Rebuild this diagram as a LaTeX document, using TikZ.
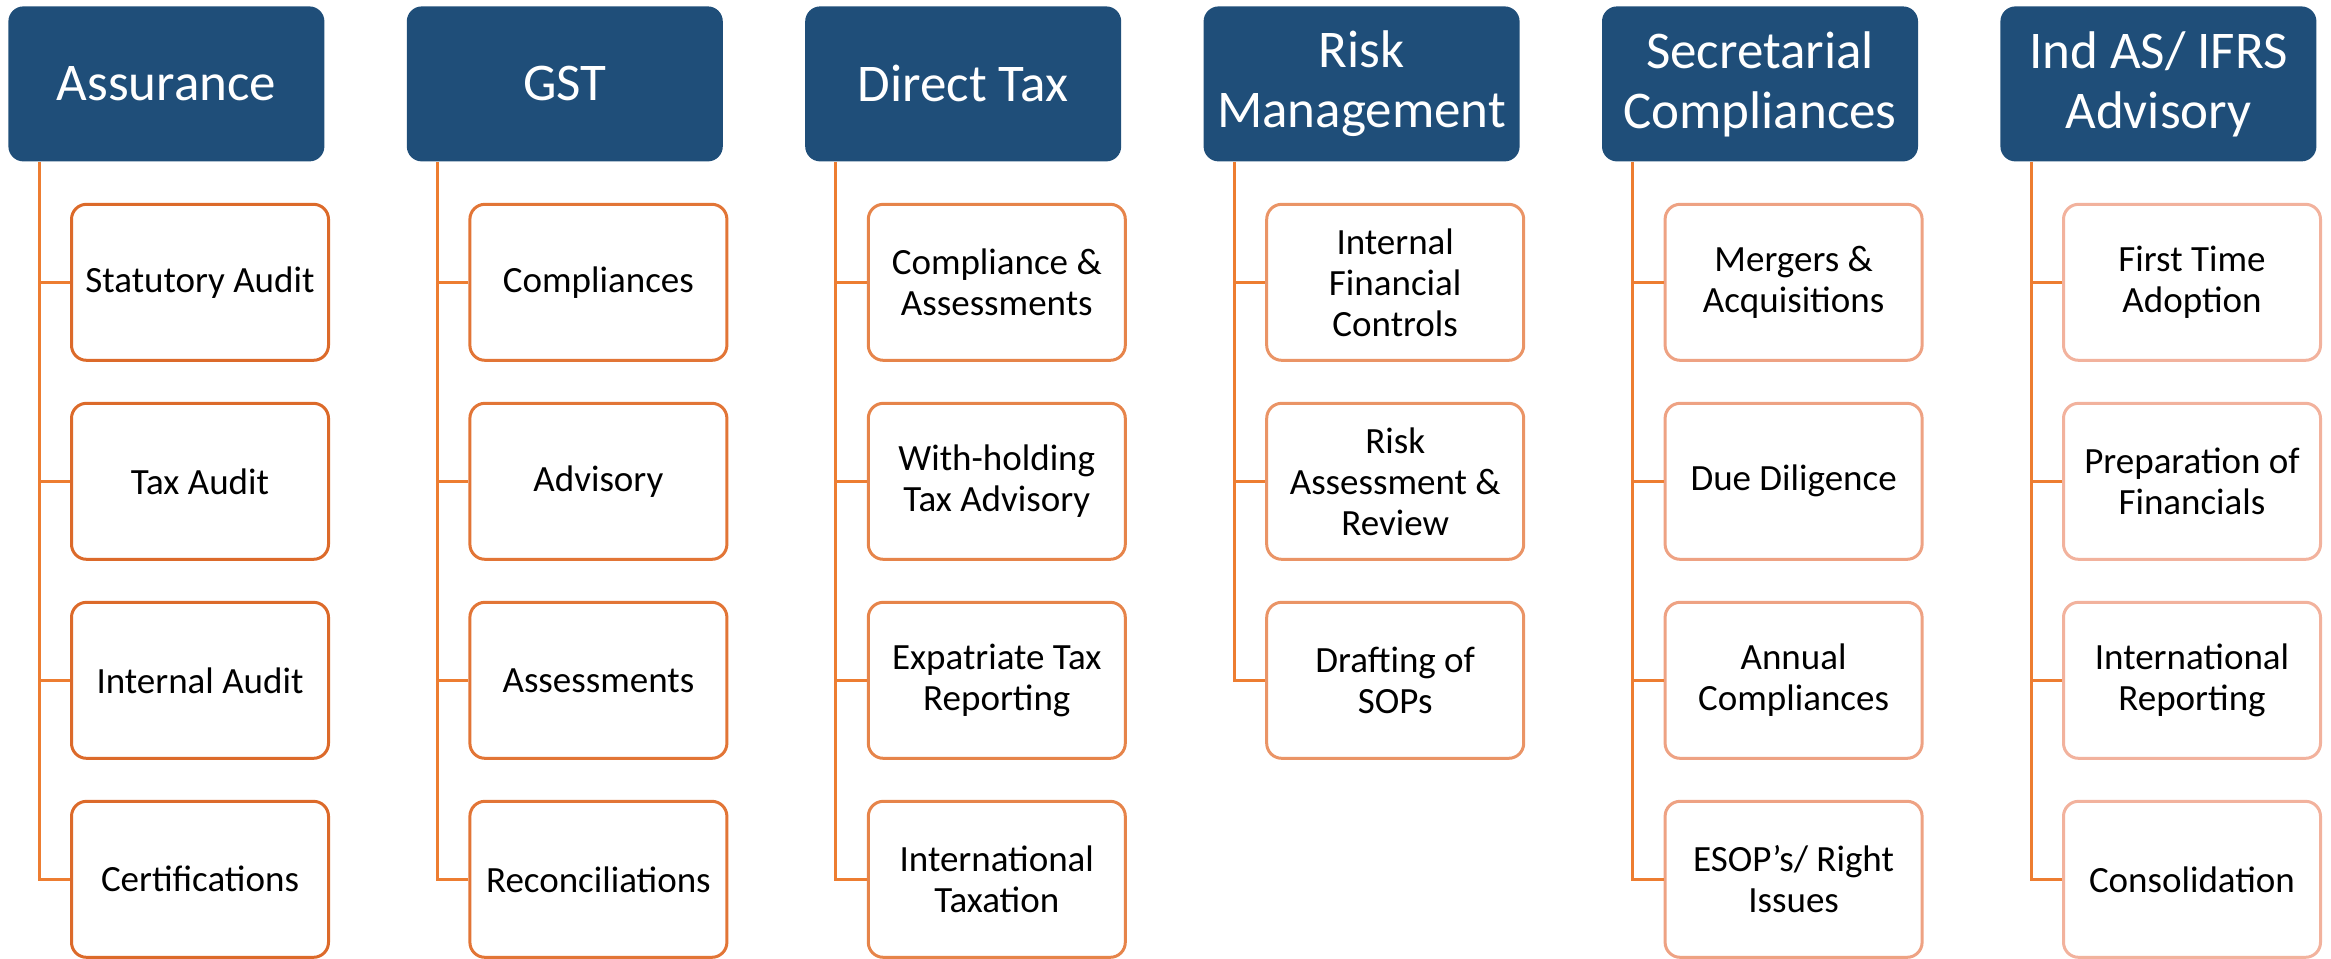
\documentclass[tikz,border=0pt]{standalone}
\usepackage{fontspec}
\setmainfont{Carlito}
\usetikzlibrary{positioning}
\usetikzlibrary{calc}
\definecolor{headblue}{HTML}{1F4E79}
\definecolor{treeorange}{HTML}{ED7D31}
\definecolor{edgeA}{HTML}{DC6A2A}
\definecolor{edgeB}{HTML}{E27536}
\definecolor{edgeC}{HTML}{E6844A}
\definecolor{edgeD}{HTML}{EA9466}
\definecolor{edgeE}{HTML}{EEA283}
\definecolor{edgeF}{HTML}{F2B29D}

\begin{document}
\begin{tikzpicture}
			\tikzset{head/.style = {shape=rectangle,rounded corners=7.5pt,fill=headblue,text=white,anchor=north west,
					minimum width=158pt,minimum height=77.5pt,inner sep=0pt,align=center,font=\fontsize{26.5}{30}\selectfont}}
			\tikzset{item/.style = {shape=rectangle,rounded corners=7.5pt,line width=1.5pt,draw,fill=white,
					minimum width=128.5pt,minimum height=78pt,inner sep=0pt,align=center,font=\fontsize{18.5}{20.5}\selectfont}}
			\tikzset{tree/.style = {line width=1.5pt,treeorange}}
			\useasboundingbox (0,0) rectangle (1165.5pt,-479.5pt);
			
			\node[head] (ASSUR) at (4pt,-3pt) {Assurance};
			\node[head] (GST) at (203.2pt,-3pt) {GST};
			\node[head] (DTAX) at (402.4pt,-3pt) {Direct Tax};
			\node[head] (RISK) at (601.6pt,-3pt) {Risk\\Management};
			\node[head] (SECR) at (800.8pt,-3pt) {Secretarial\\Compliances};
			\node[head] (INDAS) at (1000pt,-3pt) {Ind AS/ IFRS\\Advisory};
			
			\node[item, draw=edgeA, below right=20.5pt and 31pt of ASSUR.south west] (ASSUR1) {Statutory Audit};
			\node[item, draw=edgeA, below=20pt of ASSUR1] (ASSUR2) {Tax Audit};
			\node[item, draw=edgeA, below=20pt of ASSUR2] (ASSUR3) {Internal Audit};
			\node[item, draw=edgeA, below=20pt of ASSUR3] (ASSUR4) {Certifications};
			
			\node[item, draw=edgeB, below right=20.5pt and 31pt of GST.south west] (GST1) {Compliances};
			\node[item, draw=edgeB, below=20pt of GST1] (GST2) {Advisory};
			\node[item, draw=edgeB, below=20pt of GST2] (GST3) {Assessments};
			\node[item, draw=edgeB, below=20pt of GST3] (GST4) {Reconciliations};
			
			\node[item, draw=edgeC, below right=20.5pt and 31pt of DTAX.south west] (DTAX1) {Compliance \&\\Assessments};
			\node[item, draw=edgeC, below=20pt of DTAX1] (DTAX2) {With-holding\\Tax Advisory};
			\node[item, draw=edgeC, below=20pt of DTAX2] (DTAX3) {Expatriate Tax\\Reporting};
			\node[item, draw=edgeC, below=20pt of DTAX3] (DTAX4) {International\\Taxation};
			
			\node[item, draw=edgeD, below right=20.5pt and 31pt of RISK.south west] (RISK1) {Internal\\Financial\\Controls};
			\node[item, draw=edgeD, below=20pt of RISK1] (RISK2) {Risk\\Assessment \&\\Review};
			\node[item, draw=edgeD, below=20pt of RISK2] (RISK3) {Drafting of\\SOPs};
			
			\node[item, draw=edgeE, below right=20.5pt and 31pt of SECR.south west] (SECR1) {Mergers \&\\Acquisitions};
			\node[item, draw=edgeE, below=20pt of SECR1] (SECR2) {Due Diligence};
			\node[item, draw=edgeE, below=20pt of SECR2] (SECR3) {Annual\\Compliances};
			\node[item, draw=edgeE, below=20pt of SECR3] (SECR4) {ESOP’s/ Right\\Issues};
			
			\node[item, draw=edgeF, below right=20.5pt and 31pt of INDAS.south west] (INDAS1) {First Time\\Adoption};
			\node[item, draw=edgeF, below=20pt of INDAS1] (INDAS2) {Preparation of\\Financials};
			\node[item, draw=edgeF, below=20pt of INDAS2] (INDAS3) {International\\Reporting};
			\node[item, draw=edgeF, below=20pt of INDAS3] (INDAS4) {Consolidation};
			
			\coordinate (ASSUR-T) at ([xshift=15.5pt]ASSUR.south west);
			\coordinate (GST-T) at ([xshift=15.5pt]GST.south west);
			\coordinate (DTAX-T) at ([xshift=15.5pt]DTAX.south west);
			\coordinate (RISK-T) at ([xshift=15.5pt]RISK.south west);
			\coordinate (SECR-T) at ([xshift=15.5pt]SECR.south west);
			\coordinate (INDAS-T) at ([xshift=15.5pt]INDAS.south west);
			
			\draw[tree] (ASSUR-T) |- (ASSUR1.west) (ASSUR-T) |- (ASSUR2.west) (ASSUR-T) |- (ASSUR3.west) (ASSUR-T) |- (ASSUR4.west);
			\draw[tree] (GST-T) |- (GST1.west) (GST-T) |- (GST2.west) (GST-T) |- (GST3.west) (GST-T) |- (GST4.west);
			\draw[tree] (DTAX-T) |- (DTAX1.west) (DTAX-T) |- (DTAX2.west) (DTAX-T) |- (DTAX3.west) (DTAX-T) |- (DTAX4.west);
			\draw[tree] (RISK-T) |- (RISK1.west) (RISK-T) |- (RISK2.west) (RISK-T) |- (RISK3.west);
			\draw[tree] (SECR-T) |- (SECR1.west) (SECR-T) |- (SECR2.west) (SECR-T) |- (SECR3.west) (SECR-T) |- (SECR4.west);
			\draw[tree] (INDAS-T) |- (INDAS1.west) (INDAS-T) |- (INDAS2.west) (INDAS-T) |- (INDAS3.west) (INDAS-T) |- (INDAS4.west);
			
\end{tikzpicture}
\end{document}
